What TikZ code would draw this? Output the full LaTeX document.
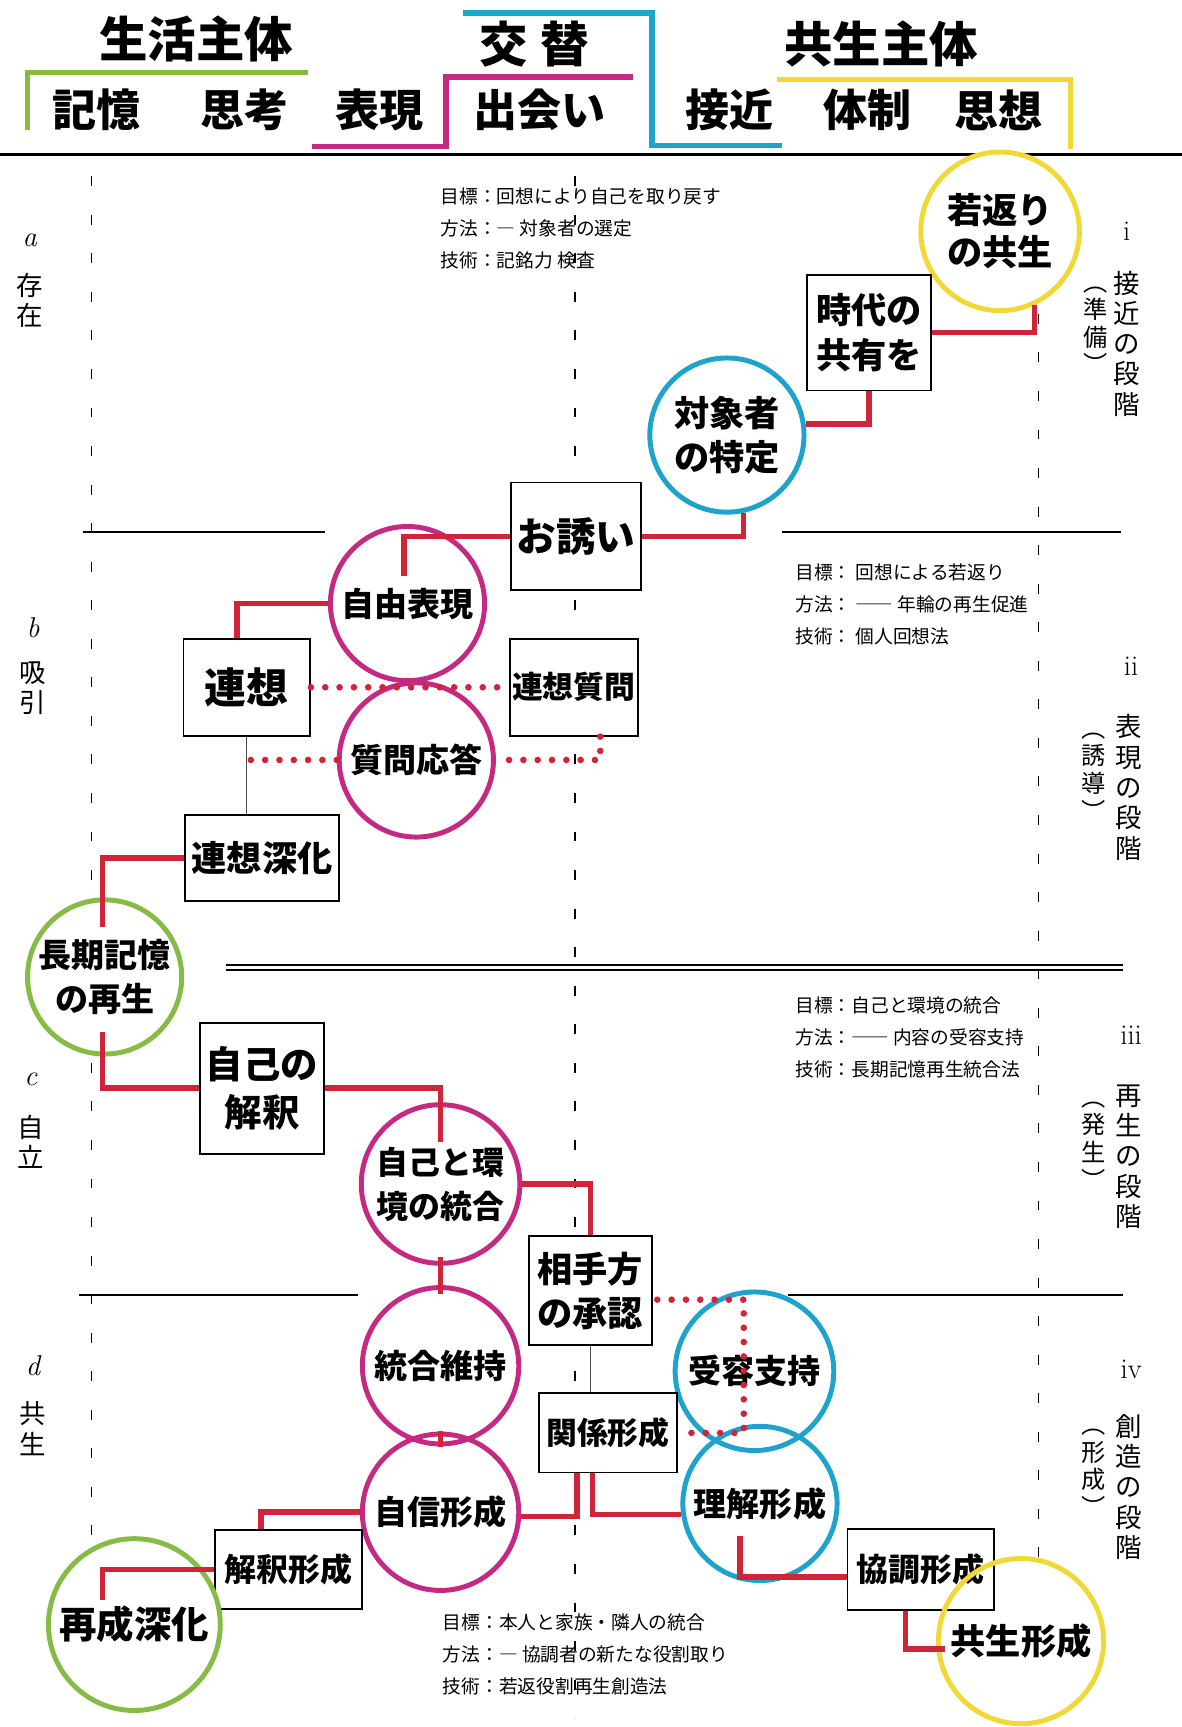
\documentclass[tikz,border=0pt]{standalone}
\usepackage{fontspec}
\newfontfamily\jp{Noto Sans CJK JP}
\usetikzlibrary{calc}
\definecolor{cred}{HTML}{D0243A}
\definecolor{cmag}{HTML}{C42A82}
\definecolor{cblu}{HTML}{1EA3CC}
\definecolor{cgrn}{HTML}{86BC45}
\definecolor{cyel}{HTML}{F0D838}
\newcommand\fsz[2]{\fontsize{#1}{#2}\selectfont}
\tikzset{
  cnode/.style={circle, inner sep=0pt, line width=4.5pt, fill=white, align=center, font=\jp\bfseries\fsz{30}{37}},
  bnode/.style={rectangle, draw=black, line width=1.6pt, fill=white, inner sep=2pt, align=center, font=\jp\bfseries\fsz{30}{37}},
  redl/.style={cred, line width=5pt},
  reddot/.style={cred, line width=6pt, line cap=round, dash pattern=on 0pt off 13pt},
  thinl/.style={black!70, line width=1.2pt},
  guide/.style={black, line width=1.3pt, dash pattern=on 9pt off 26pt},
  secl/.style={black, line width=1.6pt},
  hdr/.style={font=\jp\bfseries\fsz{44}{48}},
  hdr2/.style={font=\jp\bfseries\fsz{40}{44}},
  note/.style={anchor=north west, align=left, inner sep=0pt, font=\jp\fsz{17}{29}},
  vlab/.style={align=center, inner sep=0pt, font=\jp\fsz{24}{27.5}},
  vpar/.style={align=center, inner sep=0pt, font=\jp\fsz{22}{25}},
  rlab/.style={inner sep=0pt, font=\fsz{26}{28}},
}
\begin{document}
\begin{tikzpicture}[x=1pt,y=-1pt]
\useasboundingbox (0,0) rectangle (1073,1568);
\fill[white] (0,0) rectangle (1073,1568);

% header
\node[hdr] (h1) at (178,35) {生活主体};
\node[hdr] (h2) at (485,40) {交\hspace{12pt}替};
\node[hdr] (h3) at (800,40) {共生主体};
\node[hdr2] (k1) at (88,100) {記憶};
\node[hdr2] (k2) at (222,100) {思考};
\node[hdr2] (k3) at (345,100) {表現};
\node[hdr2] (k4) at (490,100) {出会い};
\node[hdr2] (k5) at (662,100) {接近};
\node[hdr2] (k6) at (788,100) {体制};
\node[hdr2] (k7) at (907,100) {思想};
\draw[cgrn, line width=5pt] (25,118) -- (25,66) -- (280,66);
\draw[cmag, line width=5pt] (283,133) -- (405,133) -- (405,70) -- (575,70);
\draw[cblu, line width=5pt] (420,12) -- (592,12) -- (592,132) -- (710,132);
\draw[cyel, line width=5pt] (705,72) -- (972,72) -- (972,135);
\draw[black, line width=2.5pt] (0,140) -- (1073,140);

% guides and section lines
\draw[guide] (83,160) -- (83,1555);
\draw[guide] (522,160) -- (522,1560);
\draw[guide] (943,285) -- (943,1415);
\draw[secl] (75,483) -- (295,483);
\draw[secl] (710,483) -- (1018,483);
\draw[secl] (205,876) -- (1020,876);
\draw[secl] (205,881) -- (1020,881);
\draw[secl] (72,1176) -- (325,1176);
\draw[secl] (715,1176) -- (1020,1176);

% notes
\node[note] (na) at (400,170) {目標：回想により自己を取り戻す\\方法：― 対象者の選定\\技術：記銘力 検査};
\node[note] (nb) at (722,512) {目標： 回想による若返り\\方法： ―― 年輪の再生促進\\技術： 個人回想法};
\node[note] (nc) at (722,905) {目標：自己と環境の統合\\方法：―― 内容の受容支持\\技術：長期記憶再生統合法};
\node[note] (nd) at (402,1465) {目標：本人と家族・隣人の統合\\方法：― 協調者の新たな役割取り\\技術：若返役割再生創造法};

% left labels
\node[rlab] (la) at (27,218) {\itshape a};
\node[vlab] (las) at (27,273) {存\\在};
\node[rlab] (lb) at (30,570) {\itshape b};
\node[vlab] (lbs) at (30,625) {吸\\引};
\node[rlab] (lc) at (28,980) {\itshape c};
\node[vlab] (lcs) at (28,1037) {自\\立};
\node[rlab] (ld) at (30,1240) {\itshape d};
\node[vlab] (lds) at (30,1297) {共\\生};

% right labels
\node[rlab] (ri) at (1023,210) {i};
\node[vlab] (ri1) at (1023,312) {接\\近\\の\\段\\階};
\node[vpar] (ri2) at (995,300) {︵\\準\\備\\︶};
\node[rlab] (rii) at (1027,605) {ii};
\node[vlab] (rii1) at (1025,715) {表\\現\\の\\段\\階};
\node[vpar] (rii2) at (993,705) {︵\\誘\\導\\︶};
\node[rlab] (riii) at (1027,940) {iii};
\node[vlab] (riii1) at (1025,1050) {再\\生\\の\\段\\階};
\node[vpar] (riii2) at (993,1040) {︵\\発\\生\\︶};
\node[rlab] (riv) at (1027,1243) {iv};
\node[vlab] (riv1) at (1025,1350) {創\\造\\の\\段\\階};
\node[vpar] (riv2) at (993,1337) {︵\\形\\成\\︶};

% nodes
\node[cnode, draw=cyel, minimum size=144pt, font=\jp\bfseries\fsz{32}{38}] (wk) at (908,210) {若返り\\の共生};
\node[bnode, minimum width=112pt, minimum height=105pt, font=\jp\bfseries\fsz{32}{40}] (jd) at (789,302) {時代の\\共有を};
\node[cnode, draw=cblu, minimum size=140pt, font=\jp\bfseries\fsz{32}{40}] (ts) at (660,395) {対象者\\の特定};
\node[bnode, minimum width=118pt, minimum height=98pt, font=\jp\bfseries\fsz{36}{40}] (os) at (523,487) {お誘い};
\node[cnode, draw=cmag, minimum size=140pt] (jy) at (370,548) {自由表現};
\node[bnode, minimum width=115pt, minimum height=88pt, font=\jp\bfseries\fsz{38}{40}] (rs) at (224,624) {連想};
\node[bnode, minimum width=114pt, minimum height=88pt, font=\jp\bfseries\fsz{28}{32}] (rq) at (521,624) {連想質問};
\node[cnode, draw=cmag, minimum size=140pt, fill=none] (qa) at (378,690) {質問応答};
\node[bnode, minimum width=140pt, minimum height=78pt, font=\jp\bfseries\fsz{32}{36}] (rf) at (238,779) {連想深化};
\node[cnode, draw=cgrn, minimum size=140pt, font=\jp\bfseries\fsz{30}{40}] (cm) at (95,887) {長期記憶\\の再生};
\node[bnode, minimum width=113pt, minimum height=119pt, font=\jp\bfseries\fsz{34}{44}] (jk) at (238,988) {自己の\\解釈};
\node[cnode, draw=cmag, minimum size=144pt, font=\jp\bfseries\fsz{29}{40}] (jt) at (400,1075) {自己と環\\境の統合};
\node[bnode, minimum width=112pt, minimum height=99pt, font=\jp\bfseries\fsz{32}{40}] (ah) at (536,1172) {相手方\\の承認};
\node[cnode, draw=cmag, minimum size=142pt] (ti) at (400,1240) {統合維持};
\node[cnode, draw=cblu, minimum size=144pt] (ys) at (685,1245) {受容支持};
\node[bnode, minimum width=125pt, minimum height=72pt, font=\jp\bfseries\fsz{28}{32}] (kk) at (552,1301) {関係形成};
\node[cnode, draw=cmag, minimum size=142pt, fill=none] (js) at (400,1373) {自信形成};
\node[cnode, draw=cblu, minimum size=140pt, fill=none] (rk) at (690,1365) {理解形成};
\node[bnode, minimum width=133pt, minimum height=72pt, font=\jp\bfseries\fsz{29}{32}] (kf) at (262,1425) {解釈形成};
\node[bnode, minimum width=133pt, minimum height=74pt, font=\jp\bfseries\fsz{29}{32}] (kc) at (836,1425) {協調形成};
\node[cnode, draw=cgrn, minimum size=156pt, font=\jp\bfseries\fsz{34}{38}] (ss) at (122,1475) {再成深化};
\node[cnode, draw=cyel, minimum size=150pt, fill=none, font=\jp\bfseries\fsz{32}{38}] (ks) at (927,1490) {共生形成};

% red connectors
\draw[redl] (wk.-65) |- (jd.east);
\draw[redl] (jd.south) |- (ts.8);
\draw[redl] (ts.-78) |- (os.east);
\draw[redl] (os.west) -| ($(jy.center)+(-3,-25)$);
\draw[redl] (jy.west) -| ($(rs.north)+(-9,0)$);
\draw[thinl] (rs.south) -- (rs.south |- rf.north);
\draw[redl] (rf.west) -| ($(cm.center)+(-2,-45)$);
\draw[redl] ($(cm.center)+(-2,50)$) |- (jk.west);
\draw[redl] (jk.east) -| ($(jt.center)+(0,-38)$);
\draw[redl] (jt.east) -| (ah.north);
\draw[redl] ($(jt.south)+(0,-8)$) -- ($(ti.north)+(0,8)$);
\draw[redl] ($(ti.south)+(0,-14)$) -- ($(js.north)+(0,14)$);
\draw[thinl] (ah.south) -- (ah.south |- kk.north);
\draw[redl] ($(kk.south)+(-28,0)$) |- (js.-3);
\draw[redl] ($(kk.south)+(-14,0)$) |- (rk.188);
\draw[redl] (js.west) -| ($(kf.north)+(-25,0)$);
\draw[redl] (kf.west) -| ($(ss.center)+(-29,-22)$);
\draw[redl] ($(rk.center)+(-18,30)$) |- ($(kc.west)+(0,7)$);
\draw[redl] ($(kc.south)+(-14,0)$) |- ($(ks.west)+(8,7)$);

% dotted connectors
\draw[reddot] (rs.east) -- (rq.west);
\draw[reddot] ($(rq.south)+(24,0)$) |- (qa.east);
\draw[reddot] (qa.west) -- (qa.west -| rs.south);
\draw[reddot] ($(ah.east)+(4,8)$) -| ($(kk.east)+(60,0)$) -- (kk.east);
\end{tikzpicture}
\end{document}
